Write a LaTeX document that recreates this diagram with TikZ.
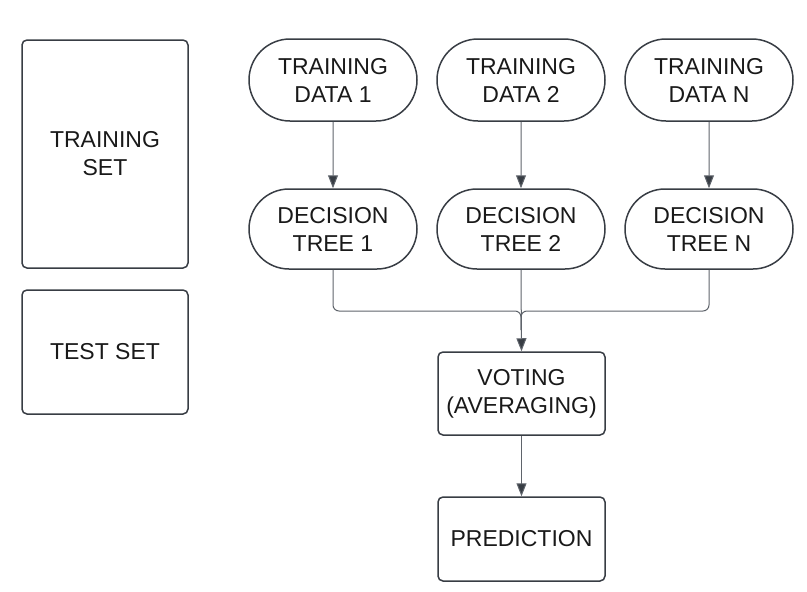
\documentclass[tikz,border=0pt]{standalone}
\usepackage{fontspec}
\setmainfont{Liberation Sans}
\usetikzlibrary{arrows.meta,shapes.misc}
\definecolor{edge}{HTML}{383D44}
\definecolor{conn}{HTML}{5F646B}
\tikzset{
  box/.style={draw=edge,line width=1.5pt,rounded corners=5pt,align=center,inner sep=0pt,font=\fontsize{23}{28}\selectfont,text=black!90},
  pill/.style={draw=edge,line width=1.5pt,rounded rectangle,align=center,inner sep=0pt,minimum width=168pt,minimum height=82pt,font=\fontsize{23}{28}\selectfont,text=black!90},
  arr/.style={draw=conn,line width=1pt,-{Triangle[length=13pt,width=10pt,fill=edge]}},
  ln/.style={draw=conn,line width=1pt,rounded corners=6pt}
}
\begin{document}
\begin{tikzpicture}[x=1pt,y=-1pt]
\useasboundingbox (0,0) rectangle (807,592);
\node[box,minimum width=166pt,minimum height=228pt] (trainset) at (105,154) {TRAINING\\SET};
\node[box,minimum width=166pt,minimum height=124pt] (testset) at (105,352) {TEST SET};
\node[pill] (d1) at (333,80) {TRAINING\\DATA 1};
\node[pill] (d2) at (521,80) {TRAINING\\DATA 2};
\node[pill] (dn) at (709,80) {TRAINING\\DATA N};
\node[pill,minimum height=80pt] (t1) at (333,229) {DECISION\\TREE 1};
\node[pill,minimum height=80pt] (t2) at (521,229) {DECISION\\TREE 2};
\node[pill,minimum height=80pt] (tn) at (709,229) {DECISION\\TREE N};
\node[box,minimum width=167pt,minimum height=83pt] (vote) at (521.5,393.5) {VOTING\\(AVERAGING)};
\node[box,minimum width=167pt,minimum height=84pt] (pred) at (521.5,539) {PREDICTION};
\draw[arr] (d1) -- (t1);
\draw[arr] (d2) -- (t2);
\draw[arr] (dn) -- (tn);
\draw[ln] (t1.south) -- (333,311) -- (521,311) -- (521,330);
\draw[ln] (tn.south) -- (709,311) -- (521,311) -- (521,330);
\draw[arr] (t2.south) -- (vote.north);
\draw[arr] (vote) -- (pred);
\end{tikzpicture}
\end{document}
